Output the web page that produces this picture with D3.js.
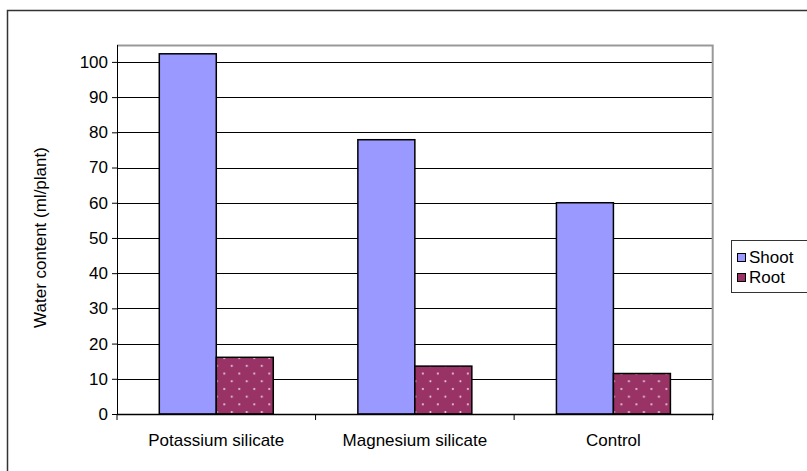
<!DOCTYPE html>
<html><head><meta charset="utf-8">
<script src="https://cdn.jsdelivr.net/npm/d3@7"></script>
<style>body{margin:0;background:#fff}svg{display:block}text{font-family:"Liberation Sans",Arial,sans-serif;fill:#000}</style>
</head><body>
<script>
const categories = ["Potassium silicate", "Magnesium silicate", "Control"];
const seriesNames = ["Shoot", "Root"];
const shootValues = [102.3, 77.9, 60.0];
const rootValues = [16.1, 13.6, 11.5];
const yTicks = [0,10,20,30,40,50,60,70,80,90,100];
const yTitle = "Water content (ml/plant)";

const W = 807, H = 471, FS = 17;
const svg = d3.select("body").append("svg").attr("width", W).attr("height", H);
const defs = svg.append("defs");
const pat = defs.append("pattern").attr("id","dots").attr("patternUnits","userSpaceOnUse")
  .attr("width",15).attr("height",15.4).attr("x",2).attr("y",1);
pat.append("rect").attr("width",15).attr("height",15.4).attr("fill","#993366");
pat.append("circle").attr("cx",3).attr("cy",3).attr("r",1).attr("fill","#f0d8e4");
pat.append("circle").attr("cx",10.5).attr("cy",10.7).attr("r",1).attr("fill","#f0d8e4");

// outer chart border
svg.append("rect").attr("x",7.5).attr("y",10.5).attr("width",820).attr("height",500)
  .attr("fill","none").attr("stroke","#333").attr("stroke-width",1.5);

const L = 117, R = 712.7, T = 45, B = 414;
const y = d3.scaleLinear().domain([0,104.8]).range([B,T]);
const x0 = d3.scaleBand().domain(categories).range([L,R]).paddingInner(0.426).paddingOuter(0.213);
const x1 = d3.scaleBand().domain(seriesNames).range([0,x0.bandwidth()]).padding(0);
const colors = {Shoot:"#9999FF", Root:"url(#dots)"};

// gridlines
svg.append("g").selectAll("line").data(yTicks.filter(d=>d>0)).join("line")
  .attr("x1",L).attr("x2",R).attr("y1",d=>Math.round(y(d))+0.5).attr("y2",d=>Math.round(y(d))+0.5)
  .attr("stroke","#000").attr("stroke-width",1);
// plot border top/right gray
svg.append("path").attr("d",`M${L},${T+0.5}H${R}V${B}`).attr("fill","none").attr("stroke","#999").attr("stroke-width",2);

// bars
const data = categories.map((c,i)=>({c, vals:[{k:"Shoot",v:shootValues[i]},{k:"Root",v:rootValues[i]}]}));
const g = svg.append("g").selectAll("g").data(data).join("g").attr("transform",d=>`translate(${x0(d.c)},0)`);
g.selectAll("rect").data(d=>d.vals).join("rect")
  .attr("x",d=>x1(d.k)).attr("width",x1.bandwidth())
  .attr("y",d=>y(d.v)).attr("height",d=>B-y(d.v))
  .attr("fill",d=>colors[d.k]).attr("stroke","#000").attr("stroke-width",1.5);

// y axis
const ya = svg.append("g").attr("transform",`translate(${L},0)`)
  .call(d3.axisLeft(y).tickValues(yTicks).tickSize(5).tickPadding(4));
ya.select(".domain").attr("stroke","#000").attr("d",`M0.5,${T}V${B}`);
ya.selectAll(".tick line").attr("stroke","#000");
ya.selectAll("text").attr("font-size",FS).attr("font-family","Liberation Sans, Arial, sans-serif");

// x axis
const xa = svg.append("g").attr("transform",`translate(0,${B})`);
xa.append("line").attr("x1",L).attr("x2",R+1).attr("y1",0.5).attr("y2",0.5).attr("stroke","#000").attr("stroke-width",1.5);
const bounds = [L, ...categories.map(c=>x0(c)-x0.step()*x0.paddingInner()/2 + x0.step())];
xa.selectAll("line.t").data(bounds).join("line").attr("class","t")
  .attr("x1",d=>d).attr("x2",d=>d).attr("y1",0).attr("y2",6).attr("stroke","#000");
xa.selectAll("text").data(categories).join("text")
  .attr("x",d=>x0(d)+x0.bandwidth()/2).attr("y",32).attr("text-anchor","middle")
  .attr("font-size",FS).text(d=>d);

// y title
svg.append("text").attr("transform",`translate(46,${(T+B)/2+8}) rotate(-90)`)
  .attr("text-anchor","middle").attr("font-size",FS).text(yTitle);

// legend
const lg = svg.append("g");
lg.append("rect").attr("x",731.5).attr("y",240.5).attr("width",90).attr("height",52)
  .attr("fill","#fff").attr("stroke","#333").attr("stroke-width",1);
const items = lg.selectAll("g").data(seriesNames).join("g")
  .attr("transform",(d,i)=>`translate(737,${257+i*20})`);
items.append("rect").attr("x",0.5).attr("y",-3.5).attr("width",8).attr("height",8)
  .attr("fill",d=>d==="Shoot"?"#9999FF":"#993366").attr("stroke","#000").attr("stroke-width",1);
items.append("text").attr("x",12).attr("y",6).attr("font-size",FS).text(d=>d);
</script>
</body></html>
